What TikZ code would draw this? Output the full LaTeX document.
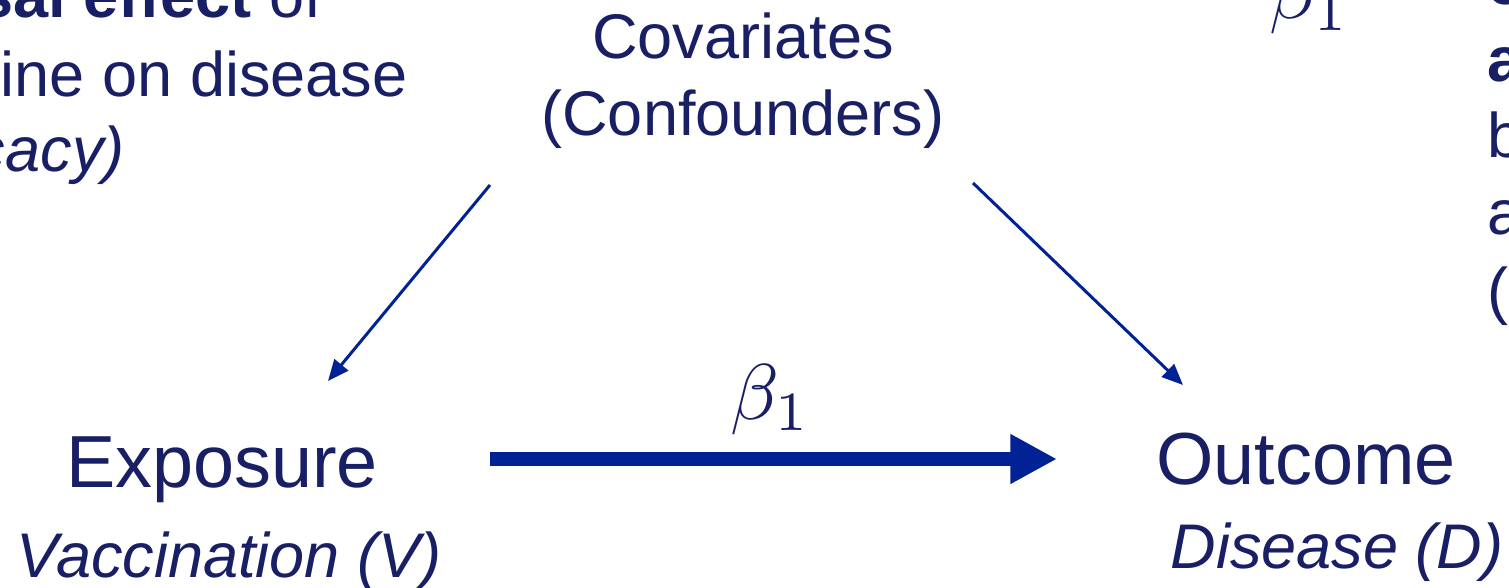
\documentclass[tikz,border=0pt]{standalone}
\usepackage{fontspec}
\setmainfont{Liberation Sans}
\usetikzlibrary{arrows.meta}
\definecolor{navy}{RGB}{25,31,100}
\definecolor{arrowblue}{RGB}{0,34,148}
\tikzset{
  lbl/.style={text=navy, inner sep=0pt, anchor=base, font=\fontsize{35.9}{43}\selectfont},
  biglbl/.style={lbl, font=\fontsize{42}{50}\selectfont},
  sublbl/.style={lbl, font=\fontsize{35.9}{43}\selectfont\itshape},
  betalbl/.style={text=navy, inner sep=0pt, anchor=base, font=\fontsize{10}{12}\selectfont, scale=4.5},
  thinarrow/.style={draw=arrowblue, fill=arrowblue, line width=1.7pt, -{Triangle[length=12pt,width=10pt]}},
  thickarrow/.style={draw=arrowblue, fill=arrowblue, line width=8.5pt, -{Triangle[length=26.6pt,width=26.6pt]}}
}
\begin{document}
\begin{tikzpicture}[x=0.02cm,y=-0.02cm]
\useasboundingbox (0,0) rectangle (1509,588);
\clip (0,0) rectangle (1509,588);
% top centre
\node[lbl] (cov1) at (743,59) {Covariates};
\node[lbl] (cov2) at (743,135) {(Confounders)};
% exposure
\node[biglbl] (expo) at (222,487) {Exposure};
\node[sublbl] (vacc) at (229,577) {Vaccination (V)};
% outcome
\node[biglbl] (outc) at (1306,484) {Outcome};
\node[sublbl] (dis) at (1337,568) {Disease (D)};
% beta labels
\node[betalbl] (beta) at (771,419) {$\beta_1$};
\node[betalbl] (betatop) at (1310,19) {$\beta_1$};
% left text (cut by the frame)
\node[lbl, anchor=base east] (lt1) at (322,18) {\textbf{sal effect} of};
\node[lbl, anchor=base east] (lt2) at (408,97) {ine on disease};
\node[lbl, anchor=base east] (lt3) at (125,172) {\textit{cacy)}};
% right text (cut by the frame)
\node[lbl, anchor=base west] (rt1) at (1487,5) {\textbf{c}};
\node[lbl, anchor=base west] (rt2) at (1487,82) {\textbf{a}};
\node[lbl, anchor=base west] (rt3) at (1487,158) {b};
\node[lbl, anchor=base west] (rt4) at (1487,235) {a};
\node[lbl, anchor=base west] (rt5) at (1487,312) {(};
% arrow end points
\coordinate (covL) at (490,185);
\coordinate (expoT) at (328,381);
\coordinate (covR) at (973,183);
\coordinate (outcT) at (1183,385);
\coordinate (expoR) at (490,459);
\coordinate (outcL) at (1057,459);
\draw[thinarrow] (covL) -- (expoT);
\draw[thinarrow] (covR) -- (outcT);
\draw[thickarrow] (expoR) -- (outcL);
\end{tikzpicture}
\end{document}
